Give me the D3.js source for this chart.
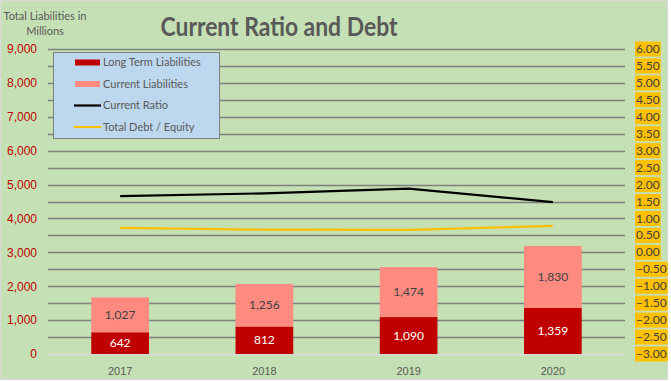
<!DOCTYPE html>
<html>
<head>
<meta charset="utf-8">
<script src="https://cdn.jsdelivr.net/npm/d3@7"></script>
<style>
  body { margin: 0; background: #fff; }
  svg { display: block; font-family: Lato, "Open Sans", sans-serif; }
</style>
</head>
<body>
<div id="chart"></div>
<script>
// chart data
const years = ['2017', '2018', '2019', '2020'];
const longTerm = [642, 812, 1090, 1359];
const currentLiab = [1027, 1256, 1474, 1830];
const currentRatio = [1.66, 1.74, 1.88, 1.48];
const debtEquity = [0.72, 0.67, 0.66, 0.78];
const leftTicks = [0, 1000, 2000, 3000, 4000, 5000, 6000, 7000, 8000, 9000];
const rightTicks = [-3, -2.5, -2, -1.5, -1, -0.5, 0, 0.5, 1, 1.5, 2, 2.5, 3, 3.5, 4, 4.5, 5, 5.5, 6];

const width = 671, height = 381;
const margin = { left: 48, right: 46, top: 49, bottom: 27 };
const plotW = width - margin.left - margin.right;
const plotH = height - margin.top - margin.bottom;

const svg = d3.select('#chart').append('svg')
    .attr('width', width)
    .attr('height', height);

// background
svg.append('rect')
    .attr('x', 0.5).attr('y', 0.5)
    .attr('width', width - 4).attr('height', height - 2)
    .attr('fill', '#C5E0B4')
    .attr('stroke', '#D9D9D9');

const x = d3.scaleBand().domain(years).range([margin.left, margin.left + plotW]).paddingInner(0.6).paddingOuter(0.3);
const xc = d => x(d) + x.bandwidth() / 2;
const yL = d3.scaleLinear().domain([0, 9000]).range([margin.top + plotH, margin.top]);
const yR = d3.scaleLinear().domain([-3, 6]).range([margin.top + plotH, margin.top]);

// gridlines every 500
const grid = d3.range(500, 9001, 500);
svg.append('g').selectAll('line')
    .data(grid).enter().append('line')
    .attr('x1', margin.left).attr('x2', margin.left + plotW)
    .attr('y1', d => Math.round(yL(d)) + 0.5).attr('y2', d => Math.round(yL(d)) + 0.5)
    .attr('stroke', '#7F7F7F').attr('stroke-width', 1.3);

// baseline
svg.append('line')
    .attr('x1', margin.left).attr('x2', margin.left + plotW)
    .attr('y1', Math.round(yL(0)) + 0.5).attr('y2', Math.round(yL(0)) + 0.5)
    .attr('stroke', '#D9D9D9').attr('stroke-width', 1.3);

// left axis
const leftAxis = svg.append('g')
    .attr('transform', `translate(${margin.left - 11},0)`)
    .call(d3.axisLeft(yL).tickValues(leftTicks).tickSize(0).tickFormat(d3.format(',')));
leftAxis.select('.domain').remove();
leftAxis.selectAll('text')
    .attr('fill', '#C00000').attr('font-size', 12).attr('x', 0);

// right axis with orange label boxes
const rightG = svg.append('g');
rightTicks.forEach(v => {
    const g = rightG.append('g').attr('transform', `translate(636,${yR(v)})`);
    const label = d3.format('.2f')(v);
    const t = g.append('text')
        .attr('dy', '0.34em')
        .attr('font-size', 12)
        .attr('fill', '#404040')
        .text(label);
    const bb = t.node().getBBox();
    g.insert('rect', 'text')
        .attr('x', bb.x - 1).attr('y', -7.5)
        .attr('width', bb.width + 2).attr('height', 15)
        .attr('fill', '#FFC000');
});

// stacked bars
const bars = svg.append('g');
bars.selectAll('rect.lt')
    .data(longTerm).enter().append('rect')
    .attr('x', (d, i) => x(years[i]))
    .attr('y', d => yL(d))
    .attr('width', x.bandwidth())
    .attr('height', d => yL(0) - yL(d))
    .attr('fill', '#C00000');
bars.selectAll('rect.cl')
    .data(currentLiab).enter().append('rect')
    .attr('x', (d, i) => x(years[i]))
    .attr('y', (d, i) => yL(d + longTerm[i]))
    .attr('width', x.bandwidth())
    .attr('height', (d, i) => yL(longTerm[i]) - yL(d + longTerm[i]))
    .attr('fill', '#FF8B80');

// bar value labels
bars.selectAll('text.lt')
    .data(longTerm).enter().append('text')
    .attr('x', (d, i) => xc(years[i]))
    .attr('y', d => (yL(0) + yL(d)) / 2)
    .attr('dy', '0.35em')
    .attr('text-anchor', 'middle')
    .attr('font-size', 12)
    .attr('fill', '#FFFFFF')
    .text(d => d3.format(',')(d));
bars.selectAll('text.cl')
    .data(currentLiab).enter().append('text')
    .attr('x', (d, i) => xc(years[i]))
    .attr('y', (d, i) => (yL(longTerm[i]) + yL(d + longTerm[i])) / 2)
    .attr('dy', '0.35em')
    .attr('text-anchor', 'middle')
    .attr('font-size', 12)
    .attr('fill', '#404040')
    .text(d => d3.format(',')(d));

// lines on the right axis
const line = d3.line().x((d, i) => xc(years[i])).y(d => yR(d));
svg.append('path').datum(currentRatio)
    .attr('d', line).attr('fill', 'none')
    .attr('stroke', '#000000').attr('stroke-width', 2.2);
svg.append('path').datum(debtEquity)
    .attr('d', line).attr('fill', 'none')
    .attr('stroke', '#FFC000').attr('stroke-width', 2.2);

// x axis labels
const xAxis = svg.append('g')
    .attr('transform', `translate(0,${yL(0) + 10})`)
    .call(d3.axisBottom(x).tickSize(0));
xAxis.select('.domain').remove();
xAxis.selectAll('text').attr('fill', '#595959').attr('font-size', 11);

// legend
const legend = svg.append('g');
legend.append('rect')
    .attr('x', 53.5).attr('y', 52.5).attr('width', 166).attr('height', 86)
    .attr('fill', '#BDD7EE').attr('stroke', '#7F7F7F');
const legendItems = [
    { name: 'Long Term Liabilities', color: '#C00000', type: 'rect' },
    { name: 'Current Liabilities', color: '#FF8B80', type: 'rect' },
    { name: 'Current Ratio', color: '#000000', type: 'line' },
    { name: 'Total Debt / Equity', color: '#FFC000', type: 'line' }
];
legendItems.forEach((item, i) => {
    const ly = 62.5 + i * 21.5;
    if (item.type === 'rect') {
        legend.append('rect').attr('x', 75).attr('y', ly - 3).attr('width', 25).attr('height', 6).attr('fill', item.color);
    } else {
        legend.append('line').attr('x1', 74).attr('x2', 101).attr('y1', ly).attr('y2', ly)
            .attr('stroke', item.color).attr('stroke-width', 2.2);
    }
    legend.append('text')
        .attr('x', 103).attr('y', ly).attr('dy', '0.35em')
        .attr('font-size', 11).attr('fill', '#595959')
        .text(item.name);
});

// axis title
svg.append('text')
    .attr('x', 45).attr('y', 20)
    .attr('text-anchor', 'middle').attr('font-size', 11).attr('fill', '#595959')
    .text('Total Liabilities in');
svg.append('text')
    .attr('x', 45).attr('y', 35)
    .attr('text-anchor', 'middle').attr('font-size', 11).attr('fill', '#595959')
    .text('Millions');

// chart title
svg.append('text')
    .attr('x', 279).attr('y', 36)
    .attr('text-anchor', 'middle')
    .attr('font-size', 27).attr('font-weight', 'bold')
    .attr('textLength', 237).attr('lengthAdjust', 'spacingAndGlyphs')
    .attr('fill', '#595959')
    .text('Current Ratio and Debt');
</script>
</body>
</html>
